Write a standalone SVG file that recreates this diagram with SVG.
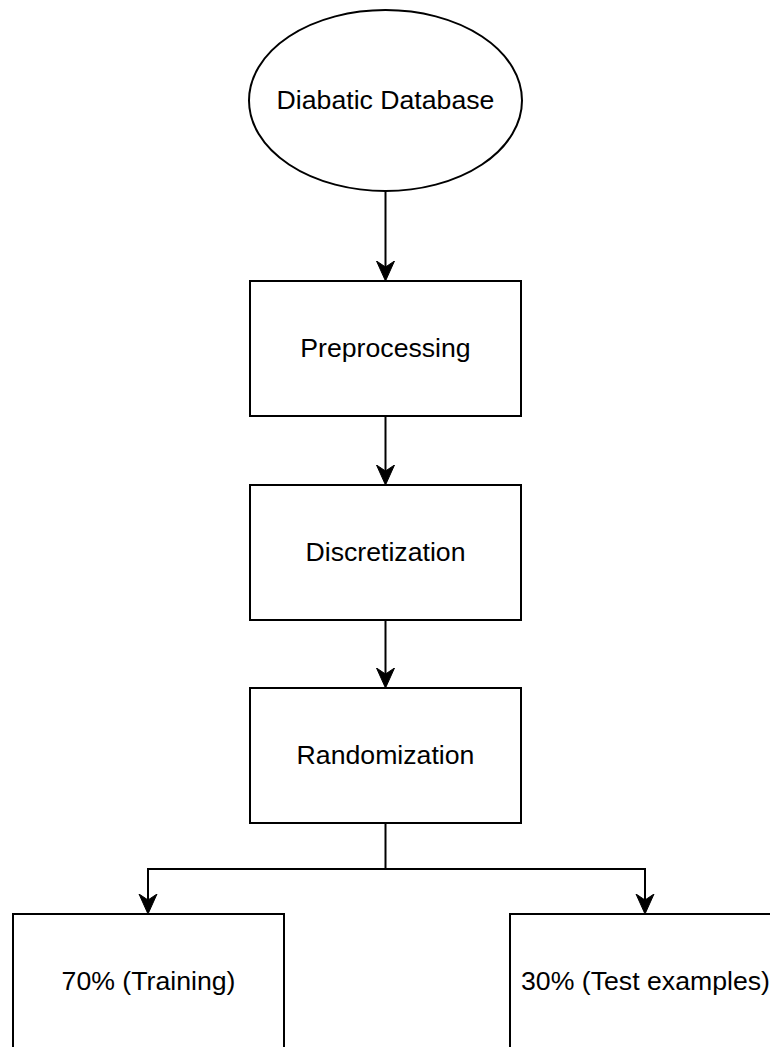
<svg xmlns="http://www.w3.org/2000/svg" width="770" height="1047" viewBox="0 0 770 1047">
  <style>
    .shape { fill: #ffffff; stroke: #000000; stroke-width: 2; }
    .label { font-family: "Liberation Sans", Arial, Helvetica, sans-serif; font-size: 26.67px; fill: #000000; text-anchor: middle; }
    .edge { fill: none; stroke: #000000; stroke-width: 2; marker-end: url(#arrow); }
  </style>
  <defs>
    <!-- classic notched arrowhead; the line stops at the notch -->
    <marker id="arrow" viewBox="0 0 20 20" markerWidth="20" markerHeight="20" markerUnits="userSpaceOnUse" refX="6" refY="10" orient="auto">
      <path d="M20,10 L0,1 L6,10 L0,19 Z" fill="#000000" stroke="#000000" stroke-width="1" stroke-linejoin="miter"/>
    </marker>
  </defs>

  <rect width="770" height="1047" fill="#ffffff"/>

  <g id="connectors">
    <path class="edge" d="M385.5,191 L385.5,267"/>
    <path class="edge" d="M385.5,416 L385.5,471"/>
    <path class="edge" d="M385.5,620 L385.5,674"/>
    <path class="edge" d="M385.5,823 L385.5,869 L148,869 L148,900"/>
    <path class="edge" d="M385.5,869 L645,869 L645,900"/>
  </g>

  <g id="database">
    <ellipse class="shape" cx="385.5" cy="100.5" rx="136.5" ry="90.5"/>
    <text class="label" x="385.5" y="108.5">Diabatic Database</text>
  </g>

  <g id="preprocessing">
    <rect class="shape" x="250" y="281" width="271" height="135"/>
    <text class="label" x="385.5" y="357">Preprocessing</text>
  </g>

  <g id="discretization">
    <rect class="shape" x="250" y="485" width="271" height="135"/>
    <text class="label" x="385.5" y="561">Discretization</text>
  </g>

  <g id="randomization">
    <rect class="shape" x="250" y="688" width="271" height="135"/>
    <text class="label" x="385.5" y="764">Randomization</text>
  </g>

  <g id="training">
    <rect class="shape" x="13" y="914" width="271" height="135"/>
    <text class="label" x="148.5" y="990">70% (Training)</text>
  </g>

  <g id="test">
    <rect class="shape" x="510" y="914" width="271" height="135"/>
    <text class="label" x="645.5" y="990">30% (Test examples)</text>
  </g>
</svg>
